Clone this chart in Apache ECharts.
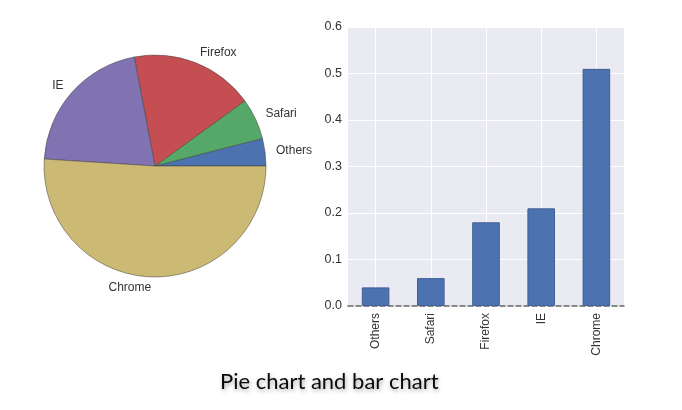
<!DOCTYPE html>
<html>
<head>
<meta charset="utf-8">
<script src="https://cdn.jsdelivr.net/npm/echarts@6/dist/echarts.min.js"></script>
<style>html,body{margin:0;padding:0;background:#fff}#c{width:682px;height:410px}</style>
</head>
<body>
<div id="c"></div>
<script>
var categories = ['Others', 'Safari', 'Firefox', 'IE', 'Chrome'];
var shares = [0.04, 0.06, 0.18, 0.21, 0.51];
var sliceColors = ['#4C72B0', '#55A868', '#C44E52', '#8172B2', '#CCB974'];
var yTicks = [0, 0.1, 0.2, 0.3, 0.4, 0.5, 0.6];
var titleText = 'Pie chart and bar chart';

var chart = echarts.init(document.getElementById('c'));
var font = '"Liberation Sans", Arial, sans-serif';
chart.setOption({
  animation: false,
  title: {
    text: titleText,
    left: 215, top: 366,
    textStyle: {
      fontFamily: 'Lato, "Open Sans", sans-serif',
      fontSize: 22, fontWeight: 'normal', color: '#0a0a0a',
      textShadowColor: 'rgba(0,0,0,0.35)', textShadowBlur: 4, textShadowOffsetX: 1, textShadowOffsetY: 2
    }
  },
  grid: {
    left: 348, right: 58, top: 27, bottom: 104,
    show: true, backgroundColor: '#EAEAF2', borderWidth: 0
  },
  xAxis: {
    type: 'category', data: categories,
    axisTick: { show: false, alignWithLabel: true },
    axisLine: { show: true, lineStyle: { color: '#666', type: [5, 3], width: 1.5 } },
    axisLabel: { rotate: 90, color: '#333', fontSize: 12, fontFamily: font, margin: 7 },
    splitLine: { show: true, alignWithLabel: true, lineStyle: { color: '#fff', width: 1 } }
  },
  yAxis: {
    type: 'value', min: yTicks[0], max: yTicks[yTicks.length - 1], interval: 0.1,
    axisLine: { show: false }, axisTick: { show: false },
    axisLabel: { color: '#333', fontSize: 12.5, fontFamily: font, margin: 6,
      formatter: function (v) { return v.toFixed(1); } },
    splitLine: { lineStyle: { color: '#fff', width: 1 } }
  },
  series: [
    {
      type: 'bar', data: shares, barWidth: '50%', z: 1,
      itemStyle: { color: '#4C72B0', borderColor: '#3F5F96', borderWidth: 1 }
    },
    {
      type: 'pie', center: [155, 166], radius: 111,
      startAngle: 0, clockwise: false,
      data: categories.map(function (c, i) {
        return { name: c, value: shares[i], itemStyle: { color: sliceColors[i] } };
      }),
      itemStyle: { borderColor: 'rgba(60,60,60,0.7)', borderWidth: 0.7 },
      label: { show: true, position: 'outside', color: '#333', fontSize: 12, fontFamily: font,
        distanceToLabelLine: 0 },
      labelLine: { show: false, length: 11, length2: 0 },
      emphasis: { disabled: true }
    }
  ]
});
</script>
</body>
</html>
